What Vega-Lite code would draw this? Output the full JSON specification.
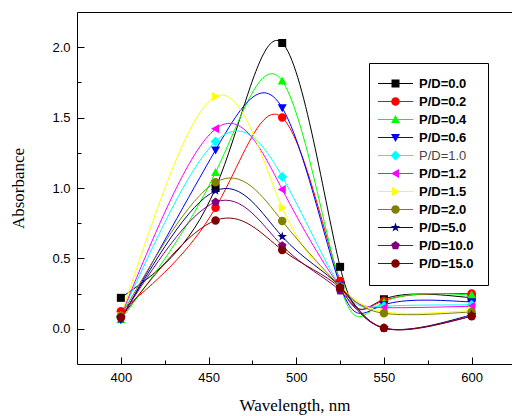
{
  "$schema": "https://vega.github.io/schema/vega-lite/v6.json",
  "width": 435,
  "height": 352,
  "autosize": {"type": "none"},
  "padding": {"left": 77, "top": 12, "right": 0, "bottom": 52},
  "config": {"view": {"stroke": null}, "font": "Liberation Sans"},
  "data": {"values": [
    {"pd": "P/D=0.0", "wl": 400, "a": 0.22}, {"pd": "P/D=0.0", "wl": 454, "a": 1.00}, {"pd": "P/D=0.0", "wl": 492, "a": 2.03}, {"pd": "P/D=0.0", "wl": 525, "a": 0.44}, {"pd": "P/D=0.0", "wl": 550, "a": 0.21}, {"pd": "P/D=0.0", "wl": 600, "a": 0.22},
    {"pd": "P/D=0.2", "wl": 400, "a": 0.125}, {"pd": "P/D=0.2", "wl": 454, "a": 0.86}, {"pd": "P/D=0.2", "wl": 492, "a": 1.50}, {"pd": "P/D=0.2", "wl": 525, "a": 0.34}, {"pd": "P/D=0.2", "wl": 550, "a": 0.20}, {"pd": "P/D=0.2", "wl": 600, "a": 0.25},
    {"pd": "P/D=0.4", "wl": 400, "a": 0.065}, {"pd": "P/D=0.4", "wl": 454, "a": 1.11}, {"pd": "P/D=0.4", "wl": 492, "a": 1.76}, {"pd": "P/D=0.4", "wl": 525, "a": 0.31}, {"pd": "P/D=0.4", "wl": 550, "a": 0.19}, {"pd": "P/D=0.4", "wl": 600, "a": 0.24},
    {"pd": "P/D=0.6", "wl": 400, "a": 0.065}, {"pd": "P/D=0.6", "wl": 454, "a": 1.27}, {"pd": "P/D=0.6", "wl": 492, "a": 1.57}, {"pd": "P/D=0.6", "wl": 525, "a": 0.31}, {"pd": "P/D=0.6", "wl": 550, "a": 0.17}, {"pd": "P/D=0.6", "wl": 600, "a": 0.19},
    {"pd": "P/D=1.0", "wl": 400, "a": 0.09}, {"pd": "P/D=1.0", "wl": 454, "a": 1.33}, {"pd": "P/D=1.0", "wl": 492, "a": 1.08}, {"pd": "P/D=1.0", "wl": 525, "a": 0.30}, {"pd": "P/D=1.0", "wl": 550, "a": 0.16}, {"pd": "P/D=1.0", "wl": 600, "a": 0.17},
    {"pd": "P/D=1.2", "wl": 400, "a": 0.09}, {"pd": "P/D=1.2", "wl": 454, "a": 1.42}, {"pd": "P/D=1.2", "wl": 492, "a": 0.99}, {"pd": "P/D=1.2", "wl": 525, "a": 0.30}, {"pd": "P/D=1.2", "wl": 550, "a": 0.15}, {"pd": "P/D=1.2", "wl": 600, "a": 0.16},
    {"pd": "P/D=1.5", "wl": 400, "a": 0.09}, {"pd": "P/D=1.5", "wl": 454, "a": 1.65}, {"pd": "P/D=1.5", "wl": 492, "a": 0.86}, {"pd": "P/D=1.5", "wl": 525, "a": 0.30}, {"pd": "P/D=1.5", "wl": 550, "a": 0.12}, {"pd": "P/D=1.5", "wl": 600, "a": 0.13},
    {"pd": "P/D=2.0", "wl": 400, "a": 0.09}, {"pd": "P/D=2.0", "wl": 454, "a": 1.04}, {"pd": "P/D=2.0", "wl": 492, "a": 0.765}, {"pd": "P/D=2.0", "wl": 525, "a": 0.30}, {"pd": "P/D=2.0", "wl": 550, "a": 0.11}, {"pd": "P/D=2.0", "wl": 600, "a": 0.12},
    {"pd": "P/D=5.0", "wl": 400, "a": 0.07}, {"pd": "P/D=5.0", "wl": 454, "a": 0.98}, {"pd": "P/D=5.0", "wl": 492, "a": 0.655}, {"pd": "P/D=5.0", "wl": 525, "a": 0.30}, {"pd": "P/D=5.0", "wl": 550, "a": 0.005}, {"pd": "P/D=5.0", "wl": 600, "a": 0.10},
    {"pd": "P/D=10.0", "wl": 400, "a": 0.08}, {"pd": "P/D=10.0", "wl": 454, "a": 0.90}, {"pd": "P/D=10.0", "wl": 492, "a": 0.59}, {"pd": "P/D=10.0", "wl": 525, "a": 0.27}, {"pd": "P/D=10.0", "wl": 550, "a": 0.005}, {"pd": "P/D=10.0", "wl": 600, "a": 0.09},
    {"pd": "P/D=15.0", "wl": 400, "a": 0.08}, {"pd": "P/D=15.0", "wl": 454, "a": 0.77}, {"pd": "P/D=15.0", "wl": 492, "a": 0.56}, {"pd": "P/D=15.0", "wl": 525, "a": 0.29}, {"pd": "P/D=15.0", "wl": 550, "a": 0.005}, {"pd": "P/D=15.0", "wl": 600, "a": 0.09}
  ]},
  "layer": [
    {
      "mark": {"type": "line", "interpolate": "natural", "strokeWidth": 1, "clip": true},
      "encoding": {
        "x": {"field": "wl", "type": "quantitative", "scale": {"domain": [375, 623], "nice": false, "zero": false},
          "axis": {"orient": "bottom", "values": [400, 450, 500, 550, 600], "title": "Wavelength, nm", "titleFont": "Liberation Serif", "titleFontSize": 17, "titleFontWeight": "normal", "titleColor": "black", "titlePadding": 13, "labelFont": "Liberation Sans", "labelFontSize": 13, "labelColor": "black", "labelPadding": 14, "tickSize": -7, "tickColor": "black", "domainColor": "black", "grid": false, "labelFlush": false}},
        "y": {"field": "a", "type": "quantitative", "scale": {"domain": [-0.25, 2.25], "nice": false, "zero": false},
          "axis": {"orient": "left", "values": [0, 0.5, 1, 1.5, 2], "format": ".1f", "title": "Absorbance", "titleFont": "Liberation Serif", "titleFontSize": 17, "titleFontWeight": "normal", "titleColor": "black", "titlePadding": 24, "labelFont": "Liberation Sans", "labelFontSize": 13, "labelColor": "black", "labelPadding": 14, "tickSize": -7, "tickColor": "black", "domainColor": "black", "grid": false, "labelFlush": false}},
        "color": {"field": "pd", "type": "nominal",
          "scale": {"domain": ["P/D=0.0", "P/D=0.2", "P/D=0.4", "P/D=0.6", "P/D=1.0", "P/D=1.2", "P/D=1.5", "P/D=2.0", "P/D=5.0", "P/D=10.0", "P/D=15.0"],
            "range": ["#000000", "#ff0000", "#00ff00", "#0000ff", "#00ffff", "#ff00ff", "#ffff00", "#808000", "#000080", "#800080", "#800000"]},
          "legend": null}
      }
    },
    {
      "mark": {"type": "point", "filled": true, "size": 100, "opacity": 1},
      "encoding": {
        "x": {"field": "wl", "type": "quantitative",
          "axis": {"orient": "bottom", "values": [425, 475, 525, 575], "labels": false, "domain": false, "tickSize": -4, "tickColor": "black", "title": null, "grid": false}},
        "y": {"field": "a", "type": "quantitative",
          "axis": {"orient": "left", "values": [0.25, 0.75, 1.25, 1.75], "labels": false, "domain": false, "tickSize": -4, "tickColor": "black", "title": null, "grid": false}},
        "color": {"field": "pd", "type": "nominal",
          "scale": {"domain": ["P/D=0.0", "P/D=0.2", "P/D=0.4", "P/D=0.6", "P/D=1.0", "P/D=1.2", "P/D=1.5", "P/D=2.0", "P/D=5.0", "P/D=10.0", "P/D=15.0"],
            "range": ["#000000", "#ff0000", "#00ff00", "#0000ff", "#00ffff", "#ff00ff", "#ffff00", "#808000", "#000080", "#800080", "#800000"]},
          "legend": null},
        "shape": {"field": "pd", "type": "nominal",
          "scale": {"domain": ["P/D=0.0", "P/D=0.2", "P/D=0.4", "P/D=0.6", "P/D=1.0", "P/D=1.2", "P/D=1.5", "P/D=2.0", "P/D=5.0", "P/D=10.0", "P/D=15.0"],
            "range": [
              "M-0.8,-0.8H0.8V0.8H-0.8Z",
              "M-0.85,0A0.85,0.85 0 1,1 0.85,0A0.85,0.85 0 1,1 -0.85,0Z",
              "M0,-0.9L0.9,0.7H-0.9Z",
              "M0,0.9L-0.9,-0.7H0.9Z",
              "M0,-1L1,0L0,1L-1,0Z",
              "M-0.9,0L0.7,-0.9V0.9Z",
              "M0.9,0L-0.7,0.9V-0.9Z",
              "M-0.85,0A0.85,0.85 0 1,1 0.85,0A0.85,0.85 0 1,1 -0.85,0Z",
              "M0,-1L0.235,-0.324L0.951,-0.309L0.38,0.124L0.588,0.809L0,0.4L-0.588,0.809L-0.38,0.124L-0.951,-0.309L-0.235,-0.324Z",
              "M0,-0.9L0.856,-0.278L0.529,0.728H-0.529L-0.856,-0.278Z",
              "M-0.85,0A0.85,0.85 0 1,1 0.85,0A0.85,0.85 0 1,1 -0.85,0Z"
            ]},
          "legend": null}
      }
    },
    {
      "mark": {"type": "point", "filled": true, "size": 100, "opacity": 0},
      "encoding": {
        "x": {"field": "wl", "type": "quantitative",
          "axis": {"orient": "top", "labels": false, "ticks": false, "domain": true, "domainColor": "black", "title": null, "grid": false}},
        "y": {"field": "a", "type": "quantitative", "axis": null},
        "color": {"field": "pd", "type": "nominal",
          "scale": {"domain": ["P/D=0.0", "P/D=0.2", "P/D=0.4", "P/D=0.6", "P/D=1.0", "P/D=1.2", "P/D=1.5", "P/D=2.0", "P/D=5.0", "P/D=10.0", "P/D=15.0"],
            "range": ["#000000", "#ff0000", "#00ff00", "#0000ff", "#00ffff", "#ff00ff", "#ffff00", "#808000", "#000080", "#800080", "#800000"]},
          "legend": {"orient": "none", "legendX": 292, "legendY": 51, "title": null, "padding": 14, "strokeColor": "black", "fillColor": "white", "symbolSize": 100, "symbolOffset": 6, "labelOffset": 17, "rowPadding": 4, "labelFont": "Liberation Sans", "labelFontSize": 13, "labelFontWeight": {"expr": "datum.value === 'P/D=1.0' ? 'normal' : 'bold'"}, "labelColor": {"expr": "datum.value === 'P/D=1.0' ? '#444444' : '#000000'"}, "symbolStrokeWidth": 0, "symbolOpacity": 1}},
        "shape": {"field": "pd", "type": "nominal",
          "scale": {"domain": ["P/D=0.0", "P/D=0.2", "P/D=0.4", "P/D=0.6", "P/D=1.0", "P/D=1.2", "P/D=1.5", "P/D=2.0", "P/D=5.0", "P/D=10.0", "P/D=15.0"],
            "range": [
              "M-3.5,-0.1H3.5V0.1H-3.5Z M-0.8,-0.8H0.8V0.8H-0.8Z",
              "M-3.5,-0.1H3.5V0.1H-3.5Z M-0.85,0A0.85,0.85 0 1,1 0.85,0A0.85,0.85 0 1,1 -0.85,0Z",
              "M-3.5,-0.1H3.5V0.1H-3.5Z M0,-0.9L0.9,0.7H-0.9Z",
              "M-3.5,-0.1H3.5V0.1H-3.5Z M0,0.9L-0.9,-0.7H0.9Z",
              "M-3.5,-0.1H3.5V0.1H-3.5Z M0,-1L1,0L0,1L-1,0Z",
              "M-3.5,-0.1H3.5V0.1H-3.5Z M-0.9,0L0.7,-0.9V0.9Z",
              "M-3.5,-0.1H3.5V0.1H-3.5Z M0.9,0L-0.7,0.9V-0.9Z",
              "M-3.5,-0.1H3.5V0.1H-3.5Z M-0.85,0A0.85,0.85 0 1,1 0.85,0A0.85,0.85 0 1,1 -0.85,0Z",
              "M-3.5,-0.1H3.5V0.1H-3.5Z M0,-1L0.235,-0.324L0.951,-0.309L0.38,0.124L0.588,0.809L0,0.4L-0.588,0.809L-0.38,0.124L-0.951,-0.309L-0.235,-0.324Z",
              "M-3.5,-0.1H3.5V0.1H-3.5Z M0,-0.9L0.856,-0.278L0.529,0.728H-0.529L-0.856,-0.278Z",
              "M-3.5,-0.1H3.5V0.1H-3.5Z M-0.85,0A0.85,0.85 0 1,1 0.85,0A0.85,0.85 0 1,1 -0.85,0Z"
            ]},
          "legend": {"orient": "none", "legendX": 292, "legendY": 51, "title": null, "padding": 14, "strokeColor": "black", "fillColor": "white", "symbolSize": 100, "symbolOffset": 6, "labelOffset": 17, "rowPadding": 4, "labelFont": "Liberation Sans", "labelFontSize": 13, "labelFontWeight": {"expr": "datum.value === 'P/D=1.0' ? 'normal' : 'bold'"}, "labelColor": {"expr": "datum.value === 'P/D=1.0' ? '#444444' : '#000000'"}, "symbolStrokeWidth": 0, "symbolOpacity": 1}}
      }
    }
  ],
  "resolve": {"scale": {"shape": "independent", "color": "independent"}, "axis": {"x": "independent", "y": "independent"}}
}
